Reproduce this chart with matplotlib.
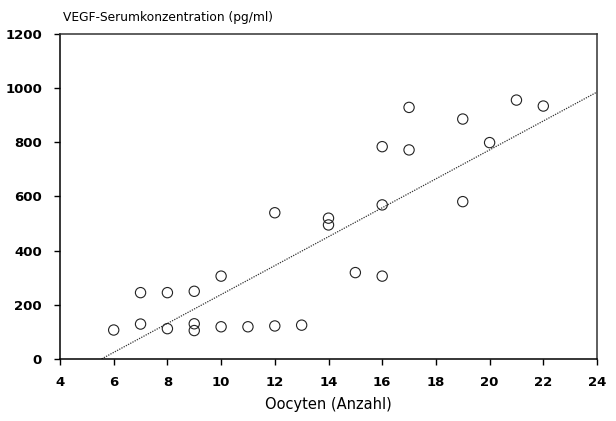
"""VEGF-Serumkonzentration vs. Oocyten (Anzahl)"""

import matplotlib
matplotlib.use("Agg")
import matplotlib.pyplot as plt
import numpy as np

# Oocyte counts and VEGF serum concentration (pg/ml)
oocytes = [6, 7, 7, 8, 8, 9, 9, 9, 10, 10, 11, 12, 12, 13,
           14, 14, 15, 16, 16, 16, 17, 17, 19, 19, 20, 21, 22]
vegf = [107, 245, 129, 245, 112, 250, 105, 130, 306, 119, 119, 122, 540, 125,
        495, 520, 319, 306, 569, 784, 929, 772, 886, 581, 799, 956, 934]

# regression line as drawn in the figure
slope = 53.4
intercept = -296.0
x_line_start = 5.55
x_line_end = 24.0

x_ticks = [4, 6, 8, 10, 12, 14, 16, 18, 20, 22, 24]
y_ticks = [0, 200, 400, 600, 800, 1000, 1200]

plt.rcParams['font.family'] = ['DejaVu Sans']

fig = plt.figure(figsize=(6.16, 4.21), dpi=100)
ax = fig.add_axes([60 / 616, 62 / 421, 537 / 616, 325 / 421])

# data points
ax.scatter(oocytes, vegf, s=55, facecolors='none', edgecolors='#222222',
           linewidths=0.8, zorder=3)

# regression line
xs = np.array([x_line_start, x_line_end])
ax.plot(xs, slope * xs + intercept, color='#333333', linestyle=(0, (1, 1)),
        linewidth=0.9)

ax.set_xlim(4, 24)
ax.set_ylim(0, 1200)
ax.set_xticks(x_ticks)
ax.set_yticks(y_ticks)
ax.tick_params(direction='out', length=4, width=1, labelsize=9.5)
ax.tick_params(axis='x', pad=8)
ax.tick_params(axis='y', pad=9)
for lab in ax.get_xticklabels() + ax.get_yticklabels():
    lab.set_fontweight('bold')

for side in ['left', 'right', 'top', 'bottom']:
    ax.spines[side].set_linewidth(1.1)
ax.spines['right'].set_color('#333333')
ax.spines['top'].set_color('#333333')

# axis labels
fig.text(63 / 616, 1 - 18 / 421, "VEGF-Serumkonzentration (pg/ml)",
         fontsize=8.8, va='center', ha='left')
ax.set_xlabel("Oocyten (Anzahl)", fontsize=10.5, labelpad=6)

fig.savefig("out.png", dpi=100)
